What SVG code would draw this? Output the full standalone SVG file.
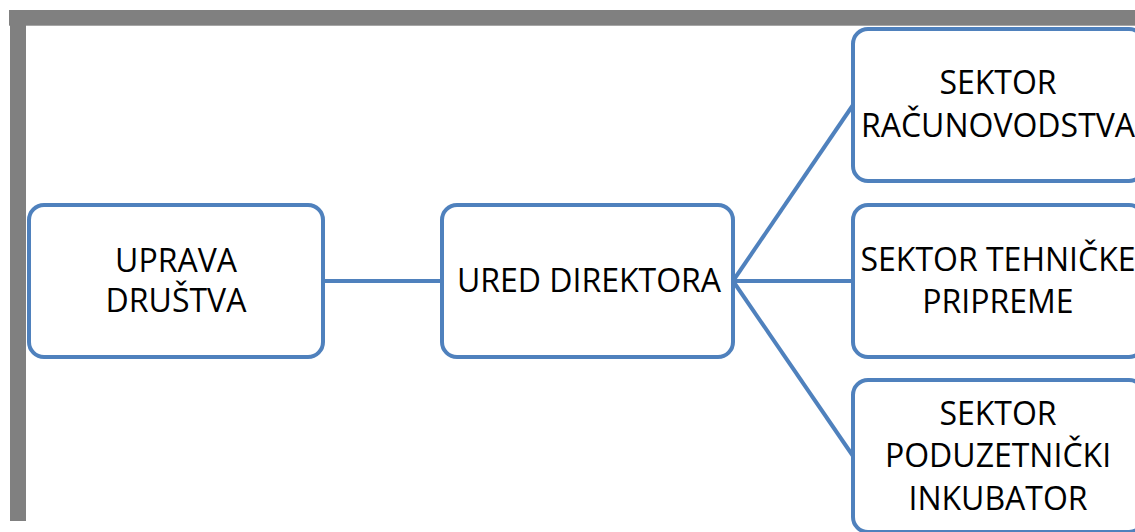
<svg xmlns="http://www.w3.org/2000/svg" width="1135" height="532" viewBox="0 0 1135 532">
<style>
.box{fill:#fff;stroke:#4F81BD;stroke-width:4}
.lbl{font-family:"Open Sans","Noto Sans",sans-serif;font-size:32px;fill:#000;text-anchor:middle}
.con{stroke:#4F81BD;stroke-width:4;fill:none}
</style>
<rect x="0" y="0" width="1135" height="532" fill="#fff"/>
<rect x="9" y="10" width="1126" height="15.7" fill="#808080"/>
<rect x="10" y="25" width="16" height="496" fill="#808080"/>
<g id="connectors">
<line class="con" x1="323" y1="281" x2="442" y2="281"/>
<line class="con" x1="733" y1="281" x2="853" y2="105"/>
<line class="con" x1="733" y1="281" x2="853" y2="281"/>
<line class="con" x1="733" y1="281" x2="853" y2="456"/>
</g>
<g id="uprava">
<rect class="box" x="29" y="205" width="294" height="152" rx="15"/>
<text class="lbl" x="176" y="272">UPRAVA</text>
<text class="lbl" x="176" y="312">DRUŠTVA</text>
</g>
<g id="ured">
<rect class="box" x="442" y="205" width="291" height="152" rx="15"/>
<text class="lbl" x="589" y="292">URED DIREKTORA</text>
</g>
<g id="racunovodstvo">
<rect class="box" x="853" y="29" width="291" height="152" rx="15"/>
<text class="lbl" x="998" y="94">SEKTOR</text>
<text class="lbl" x="998" y="137">RAČUNOVODSTVA</text>
</g>
<g id="tehnicka">
<rect class="box" x="853" y="205" width="291" height="152" rx="15"/>
<text class="lbl" x="998" y="271">SEKTOR TEHNIČKE</text>
<text class="lbl" x="998" y="313">PRIPREME</text>
</g>
<g id="inkubator">
<rect class="box" x="853" y="380" width="291" height="152" rx="15"/>
<text class="lbl" x="998" y="425">SEKTOR</text>
<text class="lbl" x="998" y="467">PODUZETNIČKI</text>
<text class="lbl" x="998" y="510">INKUBATOR</text>
</g>
</svg>
